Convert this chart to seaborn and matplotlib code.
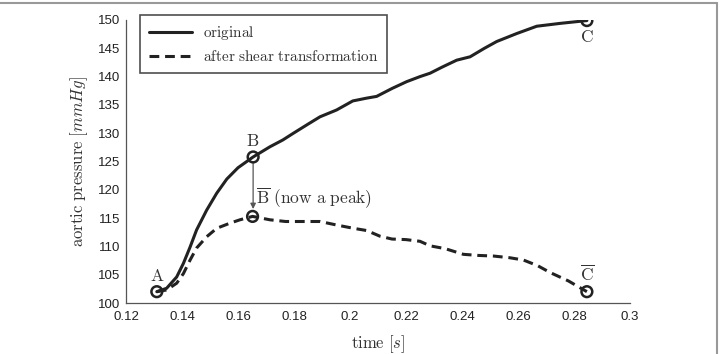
import matplotlib
matplotlib.use("Agg")
import matplotlib.pyplot as plt
from matplotlib.lines import Line2D
import seaborn as sns
import pandas as pd

# original curve
t_orig = [0.131, 0.1345, 0.1381, 0.1405, 0.1429, 0.1452, 0.1488, 0.1524, 0.1560,
          0.1600, 0.1654, 0.1714, 0.1760, 0.1798, 0.1850, 0.1893, 0.1952, 0.2010, 0.2060, 0.2095,
          0.2150, 0.2202, 0.2250, 0.2286, 0.2330, 0.2381, 0.2429, 0.2480, 0.2524, 0.2595, 0.2667,
          0.2750, 0.2846]
p_orig = [102.0, 102.6, 104.6, 107.0, 109.9, 112.9, 116.4, 119.4, 121.9,
          123.9, 125.8, 127.6, 128.8, 130.0, 131.6, 132.9, 134.1, 135.7, 136.2, 136.5,
          137.9, 139.1, 140.0, 140.6, 141.7, 142.9, 143.5, 145.0, 146.2, 147.6, 148.9,
          149.4, 149.9]

# after shear transformation
t_shear = [0.131, 0.1345, 0.1381, 0.1405, 0.1429, 0.1452, 0.1488, 0.1524, 0.1571,
           0.1607, 0.1652, 0.1714, 0.1770, 0.1833, 0.1893, 0.1950, 0.2012, 0.2060, 0.2107, 0.2150,
           0.2200, 0.2250, 0.2286, 0.2340, 0.2405, 0.2460, 0.2512, 0.2570, 0.2619, 0.2670, 0.2714,
           0.2780, 0.2846]
p_shear = [102.0, 102.3, 103.5, 105.2, 107.6, 109.7, 111.7, 113.2, 114.1,
           114.7, 115.3, 114.7, 114.4, 114.4, 114.4, 113.8, 113.2, 112.8, 111.8, 111.3,
           111.2, 110.9, 110.1, 109.6, 108.6, 108.4, 108.3, 108.0, 107.6, 106.6, 105.4,
           103.9, 102.0]

# labelled points
pt_labels = ["A", "B", "C", r"$\overline{\mathrm{B}}$", r"$\overline{\mathrm{C}}$"]
pt_t = [0.131, 0.1654, 0.2846, 0.1652, 0.2846]
pt_p = [102.0, 125.8, 149.9, 115.3, 102.0]

legend_labels = ["original", "after shear transformation"]
x_ticks = [0.12, 0.14, 0.16, 0.18, 0.2, 0.22, 0.24, 0.26, 0.28, 0.3]
x_ticklabels = ["0.12", "0.14", "0.16", "0.18", "0.2", "0.22", "0.24", "0.26", "0.28", "0.3"]
y_ticks = list(range(100, 151, 5))

sns.set_theme(style="white")
plt.rcParams["font.family"] = ["Liberation Sans", "DejaVu Sans"]
plt.rcParams["mathtext.fontset"] = "cm"

df = pd.concat([
    pd.DataFrame({"t": t_orig, "p": p_orig, "series": legend_labels[0]}),
    pd.DataFrame({"t": t_shear, "p": p_shear, "series": legend_labels[1]}),
])

DASH = (3.2, 1.9)

fig = plt.figure(figsize=(7.22, 3.54), dpi=100)
ax = fig.add_axes([126 / 722, 1 - 303 / 354, (630 - 126) / 722, (303 - 20) / 354])

sns.lineplot(data=df, x="t", y="p", style="series", ax=ax, color="#222222",
             linewidth=2.2, sort=False, estimator=None,
             dashes={legend_labels[0]: "", legend_labels[1]: DASH}, legend=False)

sns.scatterplot(x=pt_t, y=pt_p, ax=ax, marker="o", s=60, facecolor="none",
                edgecolor="#222222", linewidth=1.8, zorder=5, legend=False)

ax.set_xlim(0.12, 0.3)
ax.set_ylim(100, 150)
ax.set_xticks(x_ticks)
ax.set_xticklabels(x_ticklabels)
ax.set_yticks(y_ticks)
ax.tick_params(direction="in", length=4, width=0.8, colors="#444444", labelsize=9.5,
               labelcolor="#222222")
ax.tick_params(axis="x", pad=6)
ax.tick_params(axis="y", pad=4)
for s in ["top", "right"]:
    ax.spines[s].set_visible(False)
for s in ["left", "bottom"]:
    ax.spines[s].set_color("#555555")
    ax.spines[s].set_linewidth(0.9)

ax.set_xlabel(r"$\mathrm{time}\ [s]$", fontsize=12, color="#333333", labelpad=7)
ax.set_ylabel(r"$\mathrm{aortic\ pressure}\ [mmHg]$", fontsize=12, color="#333333", labelpad=6)

txt_kw = dict(fontsize=12.5, color="#333333")
ax.text(0.131, 103.3, r"$\mathrm{A}$", ha="center", va="bottom", **txt_kw)
ax.text(0.1654, 127.2, r"$\mathrm{B}$", ha="center", va="bottom", **txt_kw)
ax.text(0.2846, 148.4, r"$\mathrm{C}$", ha="center", va="top", **txt_kw)
ax.text(0.1665, 116.2, r"$\overline{\mathrm{B}}\ \mathrm{(now\ a\ peak)}$", ha="left", va="bottom", **txt_kw)
ax.text(0.2846, 103.5, r"$\overline{\mathrm{C}}$", ha="center", va="bottom", **txt_kw)

ax.annotate("", xy=(0.1654, 116.6), xytext=(0.1654, 124.9),
            arrowprops=dict(arrowstyle="-|>", color="#555555", lw=0.9,
                            mutation_scale=8, shrinkA=0, shrinkB=0))

handles = [Line2D([0], [0], color="#222222", lw=2.2),
           Line2D([0], [0], color="#222222", lw=2.2, dashes=DASH)]
leg = ax.legend(handles, [r"$\mathrm{original}$", r"$\mathrm{after\ shear\ transformation}$"],
                loc="upper left", bbox_to_anchor=(0.028, 1.018), fontsize=11, frameon=True,
                fancybox=False, edgecolor="#222222", handlelength=2.8, borderpad=0.6,
                labelspacing=0.45, handletextpad=0.7, borderaxespad=0)
leg.get_frame().set_linewidth(1.2)
for t in leg.get_texts():
    t.set_color("#333333")

# outer frame lines (top and right)
fig.add_artist(Line2D([0.0, 717 / 722], [1 - 2.5 / 354, 1 - 2.5 / 354], transform=fig.transFigure,
                      color="#999999", lw=1.5))
fig.add_artist(Line2D([717 / 722, 717 / 722], [0, 1 - 2.5 / 354], transform=fig.transFigure,
                      color="#999999", lw=1.5))

fig.savefig("out.png", dpi=100)
